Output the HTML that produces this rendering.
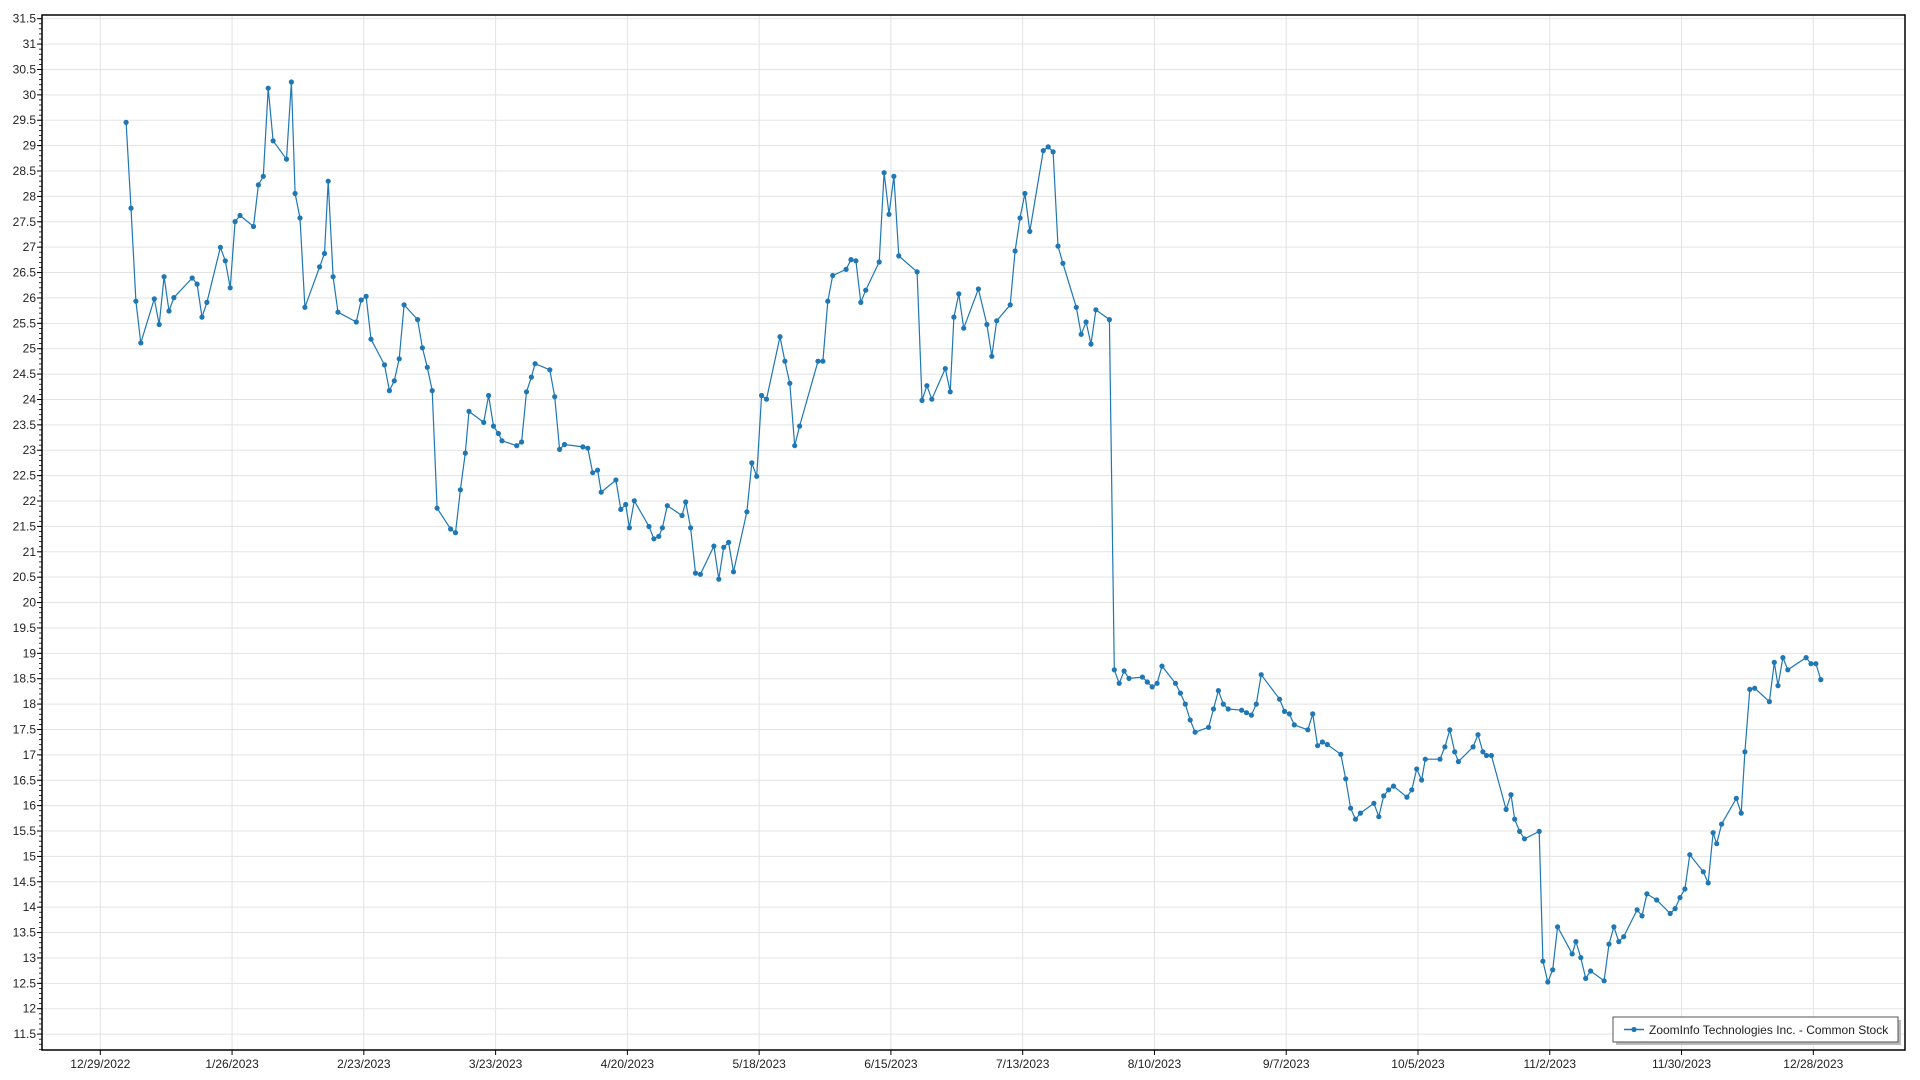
<!DOCTYPE html>
<html><head><meta charset="utf-8"><style>
html,body{margin:0;padding:0;background:#fff;width:1920px;height:1080px;overflow:hidden}
svg{display:block;font-family:"Liberation Sans",sans-serif}
</style></head><body>
<svg id="c" width="1920" height="1080" xmlns="http://www.w3.org/2000/svg"></svg>
<script>
const S=1920/1568;
const L=42,T=15,R=1905,B=1050;
const yv=v=>18.7+(31.5-v)*50.77;
const x0=100.3,pd=(1813.3-100.3)/364;
let h='<rect x="'+L+'" y="'+T+'" width="'+(R-L)+'" height="'+(B-T)+'" fill="#fff"/>';
// horizontal grid + y labels
for(let i=0;i<=40;i++){const v=11.5+i*0.5,y=yv(v);
 h+=`<line x1="${L}" x2="${R}" y1="${y}" y2="${y}" stroke="#e3e3e3" stroke-width="1"/>`;
 h+=`<line x1="${L-5}" x2="${L}" y1="${y}" y2="${y}" stroke="#000"/>`;
 h+=`<text x="${L-6}" y="${y+4}" font-size="12" text-anchor="end" fill="#222">${v}</text>`;}
for(let v=11.2;v<=31.6;v+=0.1){const y=yv(v);h+=`<line x1="${L-3}" x2="${L}" y1="${y}" y2="${y}" stroke="#000" stroke-width="0.8"/>`;}
const dl=["12/29/2022","1/26/2023","2/23/2023","3/23/2023","4/20/2023","5/18/2023","6/15/2023","7/13/2023","8/10/2023","9/7/2023","10/5/2023","11/2/2023","11/30/2023","12/28/2023"];
dl.forEach((d,i)=>{const x=x0+i*28*pd;
 h+=`<line x1="${x}" x2="${x}" y1="${T}" y2="${B}" stroke="#e3e3e3"/>`;
 h+=`<line x1="${x}" x2="${x}" y1="${B}" y2="${B+5}" stroke="#000"/>`;
 h+=`<text x="${x}" y="${B+18}" font-size="12" text-anchor="middle" fill="#222">${d}</text>`;});
h+=`<rect x="${L}" y="${T}" width="${R-L}" height="${B-T}" fill="none" stroke="#000" stroke-width="1.5"/>`;
const p=[[103,100],[107,170],[111,246],[115,280],[126,244],[130,265],[134,226],[138,254],[142,243],[157,227],[161,232],[165,259],[169,247],[180,202],[184,213],[188,235],[192,181],[196,176],[207,185],[211,151],[215,144],[219,72],[223,115],[234,130],[238,67],[241,158],[245,178],[249,251],[261,218],[265,207],[268,148],[272,226],[276,255],[291,263],[295,245],[299,242],[303,277],[314,298],[318,319],[322,311],[326,293],[330,249],[341,261],[345,284],[349,300],[353,319],[357,415],[368,432],[372,435],[376,400],[380,370],[383,336],[395,345],[399,323],[403,348],[407,354],[410,360],[422,364],[426,361],[430,320],[434,308],[437,297],[449,302],[453,324],[457,367],[461,363],[476,365],[480,366],[484,386],[488,384],[491,402],[503,392],[507,416],[511,412],[514,431],[518,409],[530,430],[534,440],[538,438],[541,431],[545,413],[557,421],[560,410],[564,431],[568,468],[572,469],[583,446],[587,473],[591,447],[595,443],[599,467],[610,418],[614,378],[618,389],[622,323],[626,326],[637,275],[641,295],[645,313],[649,364],[653,348],[668,295],[672,295],[676,246],[680,225],[691,220],[695,212],[699,213],[703,247],[707,237],[718,214],[722,141],[726,175],[730,144],[734,209],[749,222],[753,327],[757,315],[761,326],[772,301],[776,320],[779,259],[783,240],[787,268],[799,236],[806,265],[810,291],[814,262],[825,249],[829,205],[833,178],[837,158],[841,189],[852,123],[856,120],[860,124],[864,201],[868,215],[879,251],[883,273],[887,263],[891,281],[895,253],[906,261],[910,547],[914,558],[918,548],[922,554],[933,553],[937,557],[941,561],[945,558],[949,544],[960,558],[964,566],[968,575],[972,588],[976,598],[987,594],[991,579],[995,564],[999,575],[1003,579],[1014,580],[1018,582],[1022,584],[1026,575],[1030,551],[1045,571],[1049,581],[1053,583],[1057,592],[1068,596],[1072,583],[1076,609],[1080,606],[1084,608],[1095,616],[1099,636],[1103,660],[1107,669],[1111,664],[1122,656],[1126,667],[1130,650],[1134,645],[1138,642],[1149,651],[1153,645],[1157,628],[1161,637],[1164,620],[1176,620],[1180,610],[1184,596],[1188,614],[1191,622],[1203,610],[1207,600],[1211,614],[1214,617],[1218,617],[1230,661],[1234,649],[1237,669],[1241,679],[1245,685],[1257,679],[1260,785],[1264,802],[1268,792],[1272,757],[1284,779],[1287,769],[1291,782],[1295,799],[1299,793],[1310,801],[1314,771],[1318,757],[1322,769],[1326,765],[1337,743],[1341,748],[1345,730],[1353,735],[1364,746],[1368,742],[1372,733],[1376,726],[1380,698],[1391,712],[1395,721],[1399,680],[1402,689],[1406,673],[1418,652],[1422,664],[1425,614],[1429,563],[1433,562],[1445,573],[1449,541],[1452,560],[1456,537],[1460,547],[1475,537],[1479,542],[1483,542],[1487,555]];
const q=p.map(a=>[(a[0]*S).toFixed(1),(a[1]*S).toFixed(1)]);
h+=`<polyline fill="none" stroke="#1f77b4" stroke-width="1.2" points="${q.map(a=>a.join(',')).join(' ')}"/>`;
q.forEach(a=>h+=`<circle cx="${a[0]}" cy="${a[1]}" r="2.6" fill="#1f77b4"/>`);
// legend
h+=`<rect x="1616" y="1020" width="285" height="25" fill="#bbb"/>`;
h+=`<rect x="1613" y="1017" width="285" height="25" fill="#fff" stroke="#555" stroke-width="1"/>`;
h+=`<line x1="1624" x2="1644" y1="1029.5" y2="1029.5" stroke="#1f77b4" stroke-width="1.5"/><circle cx="1634" cy="1029.5" r="2.6" fill="#1f77b4"/>`;
h+=`<text x="1649" y="1034" font-size="12" fill="#222">ZoomInfo Technologies Inc. - Common Stock</text>`;
document.getElementById('c').innerHTML=h;
</script>
</body></html>
